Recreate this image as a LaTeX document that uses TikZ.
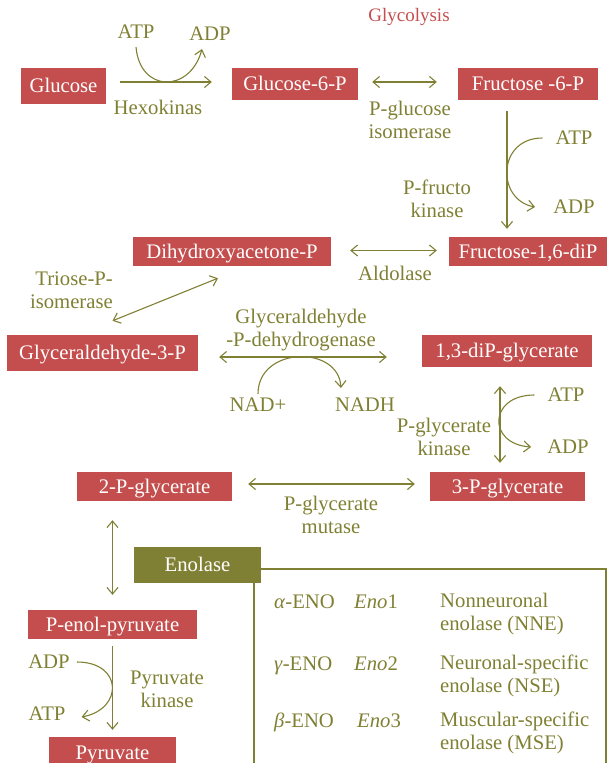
\documentclass[tikz,border=0pt]{standalone}
\usepackage{fontspec}
\setmainfont{Liberation Serif}
\usetikzlibrary{arrows.meta, calc}

\definecolor{glyred}{RGB}{196,78,78}
\definecolor{glyolive}{RGB}{128,128,52}
\newcommand{\glyfont}{\fontsize{20.7}{23}\selectfont}

\begin{document}
\begin{tikzpicture}[x=1pt, y=1pt,
    metabox/.style={fill=glyred, text=white, font=\glyfont, inner sep=1pt,
      text height=17.5pt, text depth=4pt},
    enzyme/.style={text=glyolive, font=\glyfont, inner sep=1pt, align=center},
    flow/.style={glyolive, line width=1.1pt, -{Straight Barb[length=6.5pt,width=11pt]}},
    revflow/.style={glyolive, line width=1.1pt,
      {Straight Barb[length=6.5pt,width=11pt]}-{Straight Barb[length=6.5pt,width=11pt]}}]
  \useasboundingbox (0,0) rectangle (607,-763);
  \clip (0,0) rectangle (607,-763);
  % --- Title ---
  \node[enzyme, text=glyred, font=\fontsize{19}{23}\selectfont] (title) at (409,-16.5) {Glycolysis};
  % --- Metabolites ---
  \node[metabox, minimum width=85pt, minimum height=36pt] (glucose) at (63.5,-86) {Glucose};
  \node[metabox, minimum width=126pt, minimum height=32pt] (gsixp) at (295,-84) {Glucose-6-P};
  \node[metabox, minimum width=140pt, minimum height=32pt] (fsixp) at (528,-84) {Fructose -6-P};
  \node[metabox, minimum width=158pt, minimum height=29pt] (fbisp) at (528,-251.5) {Fructose-1,6-diP};
  \node[metabox, minimum width=198pt, minimum height=29pt] (dhap) at (232,-251.5) {Dihydroxyacetone-P};
  \node[metabox, minimum width=191pt, minimum height=36pt] (gthreep) at (102.5,-353) {Glyceraldehyde-3-P};
  \node[metabox, minimum width=170pt, minimum height=32pt] (bpg) at (507,-351) {1,3-diP-glycerate};
  \node[metabox, minimum width=155pt, minimum height=29pt] (threepg) at (507.5,-486.5) {3-P-glycerate};
  \node[metabox, minimum width=155pt, minimum height=29pt] (twopg) at (154.5,-486.5) {2-P-glycerate};
  \node[metabox, minimum width=169pt, minimum height=29pt] (pep) at (112.5,-624.5) {P-enol-pyruvate};
  \node[metabox, minimum width=127pt, minimum height=32pt] (pyruvate) at (112.5,-753) {Pyruvate};
  % --- Enzymes and cofactors ---
  \node[enzyme] (atpHk) at (136,-32) {ATP};
  \node[enzyme] (adpHk) at (210,-34) {ADP};
  \node[enzyme] (hexokinas) at (158,-107) {Hexokinas};
  \node[enzyme] (pgi) at (410,-120) {P-glucose\\isomerase};
  \node[enzyme] (atpPfk) at (574,-138) {ATP};
  \node[enzyme] (adpPfk) at (574,-207) {ADP};
  \node[enzyme] (pfk) at (437,-199) {P-fructo\\kinase};
  \node[enzyme] (aldolase) at (395,-273) {Aldolase};
  \node[enzyme, align=right, anchor=east] (tpi) at (114,-290) {Triose-P-\\isomerase};
  \node[enzyme] (gapdh) at (301,-330) {Glyceraldehyde\\-P-dehydrogenase};
  \node[enzyme] (nad) at (258,-405) {NAD+};
  \node[enzyme] (nadh) at (365,-405) {NADH};
  \node[enzyme] (atpPgk) at (566,-395) {ATP};
  \node[enzyme] (adpPgk) at (568,-447) {ADP};
  \node[enzyme] (pgk) at (444,-437) {P-glycerate\\kinase};
  \node[enzyme] (pgm) at (331,-515) {P-glycerate\\mutase};
  \node[enzyme] (adpPk) at (49,-662) {ADP};
  \node[enzyme] (atpPk) at (47,-714) {ATP};
  \node[enzyme] (pk) at (167,-689) {Pyruvate\\kinase};
  % --- Reactions ---
  \draw[flow] ([xshift=14pt,yshift=4pt]glucose.east) -- ([xshift=-20pt,yshift=2pt]gsixp.west);
  \draw[flow] ([yshift=-7pt]atpHk.south) .. controls +(4,-46) and +(-12,-44) .. ([xshift=-8pt,yshift=-7pt]adpHk.south);
  \draw[revflow] ([xshift=14pt,yshift=2pt]gsixp.east) -- ([xshift=-21pt,yshift=2pt]fsixp.west);
  \draw[flow] ([xshift=-21pt,yshift=-11pt]fsixp.south) -- ([xshift=-21pt,yshift=8pt]fbisp.north);
  \draw[flow] ([xshift=-12pt]atpPfk.west) .. controls +(-45.5,0) and +(-39,7) .. ([xshift=-17pt]adpPfk.west);
  \draw[revflow] ([xshift=19pt,yshift=1pt]dhap.east) -- ([xshift=-12pt,yshift=1pt]fbisp.west);
  \draw[revflow] ([xshift=-14pt,yshift=-12pt]dhap.south) -- ([xshift=10pt,yshift=14pt]gthreep.north);
  \draw[revflow] ([xshift=21pt,yshift=-4pt]gthreep.east) -- ([xshift=-35pt,yshift=-6pt]bpg.west);
  \draw[flow] ([yshift=3pt]nad.north) .. controls +(0,48) and +(-2,43) .. ([xshift=7pt,yshift=9pt]nadh.north west);
  \draw[revflow] ([xshift=-7pt,yshift=-19pt]bpg.south) -- ([xshift=-7.5pt,yshift=9pt]threepg.north);
  \draw[flow] ([xshift=-12pt]atpPgk.west) .. controls +(-46,0) and +(-44,3) .. ([xshift=-15pt]adpPgk.west);
  \draw[revflow] ([xshift=16pt,yshift=2.5pt]twopg.east) -- ([xshift=-15pt,yshift=2.5pt]threepg.west);
  \draw[revflow] ($(twopg.south -| pep.north)+(0,-19)$) -- ([yshift=15pt]pep.north);
  \draw[flow] ([yshift=-7pt]pep.south) -- ([yshift=7pt]pyruvate.north);
  \draw[flow] ([xshift=6pt]adpPk.east) .. controls +(46,0) and +(42,8) .. ([xshift=15pt,yshift=-3pt]atpPk.east);
  % --- Enolase isoforms ---
  \draw[glyolive, line width=1.1pt] (254,-569) rectangle (606,-790);
  \node[metabox, fill=glyolive, minimum width=127pt, minimum height=36pt] (enolase) at (197.5,-565) {Enolase};
  \node[enzyme, anchor=base west] (alphaeno) at (273,-608) {\textit{α}-ENO};
  \node[enzyme, anchor=base west] (enoone) at (353,-608) {\textit{Eno}1};
  \node[enzyme, anchor=west, align=left] (nne) at (439,-614) {Nonneuronal\\enolase (NNE)};
  \node[enzyme, anchor=base west] (gammaeno) at (273,-670) {\textit{γ}-ENO};
  \node[enzyme, anchor=base west] (enotwo) at (353,-670) {\textit{Eno}2};
  \node[enzyme, anchor=west, align=left] (nse) at (439,-676) {Neuronal-specific\\enolase (NSE)};
  \node[enzyme, anchor=base west] (betaeno) at (273,-727) {\textit{β}-ENO};
  \node[enzyme, anchor=base west] (enothree) at (356,-727) {\textit{Eno}3};
  \node[enzyme, anchor=west, align=left] (mse) at (439,-733) {Muscular-specific\\enolase (MSE)};
\end{tikzpicture}
\end{document}
